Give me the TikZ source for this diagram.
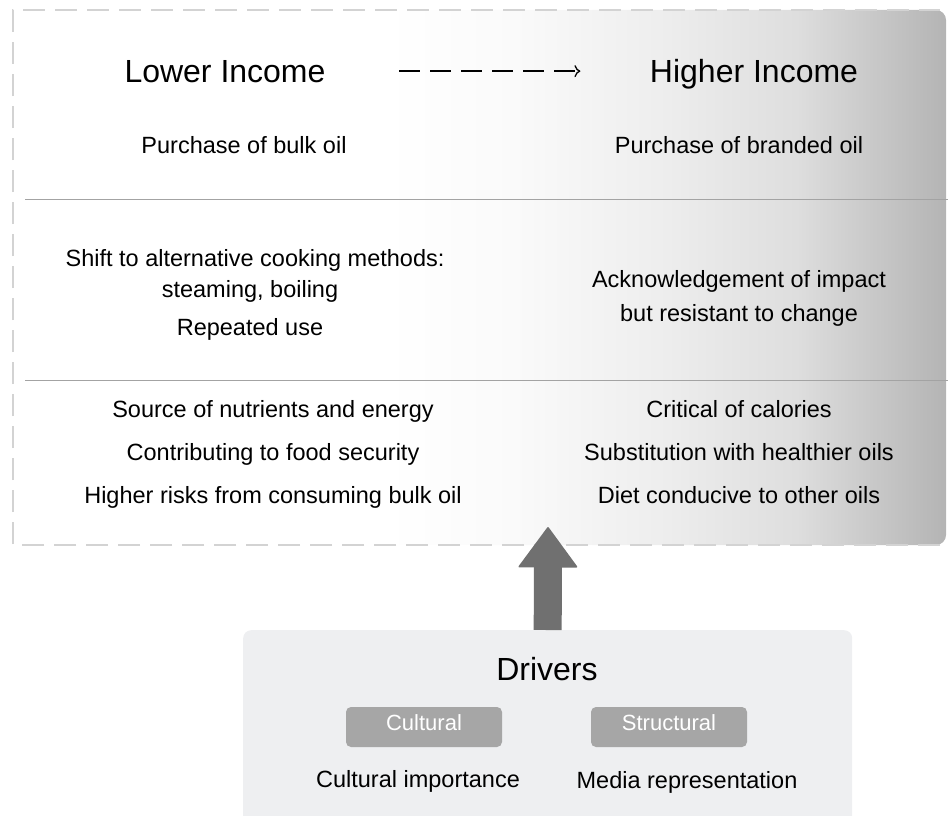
\documentclass[tikz,border=0pt]{standalone}
\usepackage{fontspec}
\setmainfont{Liberation Sans}
\usetikzlibrary{arrows.meta}

\definecolor{boxline}{HTML}{D3D3D3}
\definecolor{rulegray}{HTML}{A3A3A3}
\definecolor{fadegray}{HTML}{B4B4B4}
\definecolor{driverbg}{HTML}{EEEFF1}
\definecolor{tagbg}{HTML}{A6A6A6}
\definecolor{arrowgray}{HTML}{707070}

% fade of the income panel: white on the left, grey at the right edge
\pgfdeclarehorizontalshading{incomefade}{100bp}{color(0bp)=(white); color(25bp)=(white); color(45bp)=(white);
  color(52bp)=(black!2); color(60bp)=(black!7); color(67bp)=(black!13); color(75bp)=(fadegray); color(100bp)=(fadegray)}

\tikzset{
  headline/.style={anchor=base, font=\fontsize{32}{38}\selectfont},
  bodytext/.style={anchor=base, font=\fontsize{23.5}{28}\selectfont},
  tagbox/.style={fill=tagbg, text=white, rounded corners=5pt, inner sep=0pt,
    minimum width=156pt, minimum height=40pt, text depth=8pt,
    font=\fontsize{22}{26}\selectfont}
}

\begin{document}
\begin{tikzpicture}[x=1pt, y=-1pt]
% Set the page to the reference size
\useasboundingbox (0,0) rectangle (948,816);
\clip (0,0) rectangle (948,816);

% Income panel with its fade to the right
\shade[shading=incomefade, rounded corners=10pt] (13,10) rectangle (946,545);
\draw[boxline, line width=1.5pt, dash pattern=on 22pt off 10pt] (940,545) -- (13,545) -- (13,10) -- (940,10);
\draw[rulegray, line width=1pt] (25,199) -- (948,199);
\draw[rulegray, line width=1pt] (25,380) -- (948,380);

\node[headline] (lower) at (225,82) {Lower Income};
\node[headline] (higher) at (754,82) {Higher Income};
\draw[line width=1.3pt, dash pattern=on 21pt off 10pt, -{To[length=6pt, width=12pt]}] ([xshift=70pt]lower.east) -- ([xshift=-66pt]lower.east -| higher.west);

\node[bodytext] (bulk) at (244,153) {Purchase of bulk oil};
\node[bodytext] (branded) at (739,153) {Purchase of branded oil};

\node[bodytext] (shift) at (255,266) {Shift to alternative cooking methods:};
\node[bodytext] (steam) at (250,297) {steaming, boiling};
\node[bodytext] (reuse) at (250,335) {Repeated use};
\node[bodytext] (impact) at (739,287) {Acknowledgement of impact};
\node[bodytext] (resist) at (739,321) {but resistant to change};

\node[bodytext] (nutrient) at (273,417) {Source of nutrients and energy};
\node[bodytext] (security) at (273,460) {Contributing to food security};
\node[bodytext] (risk) at (273,503) {Higher risks from consuming bulk oil};
\node[bodytext] (calorie) at (739,417) {Critical of calories};
\node[bodytext] (healthier) at (739,460) {Substitution with healthier oils};
\node[bodytext] (diet) at (739,503) {Diet conducive to other oils};

% Drivers panel
\node[fill=driverbg, rounded corners=8pt, minimum width=609pt, minimum height=220pt, anchor=north west, inner sep=0pt] (drivers) at (243,630) {};
\coordinate (tip) at (548,527);
\draw[arrowgray, line width=28pt, -{Triangle[width=60pt, length=41pt, line width=1.5pt, round]}] (drivers.north) -- (tip);

\node[headline] (drvtitle) at (547,680) {Drivers};
\node[tagbox] (cultural) at (424,727) {Cultural};
\node[tagbox] (structural) at (669,727) {Structural};
\node[bodytext] (culture) at (418,787) {Cultural importance};
\node[bodytext] (media) at (687,788) {Media representation};
\end{tikzpicture}
\end{document}
